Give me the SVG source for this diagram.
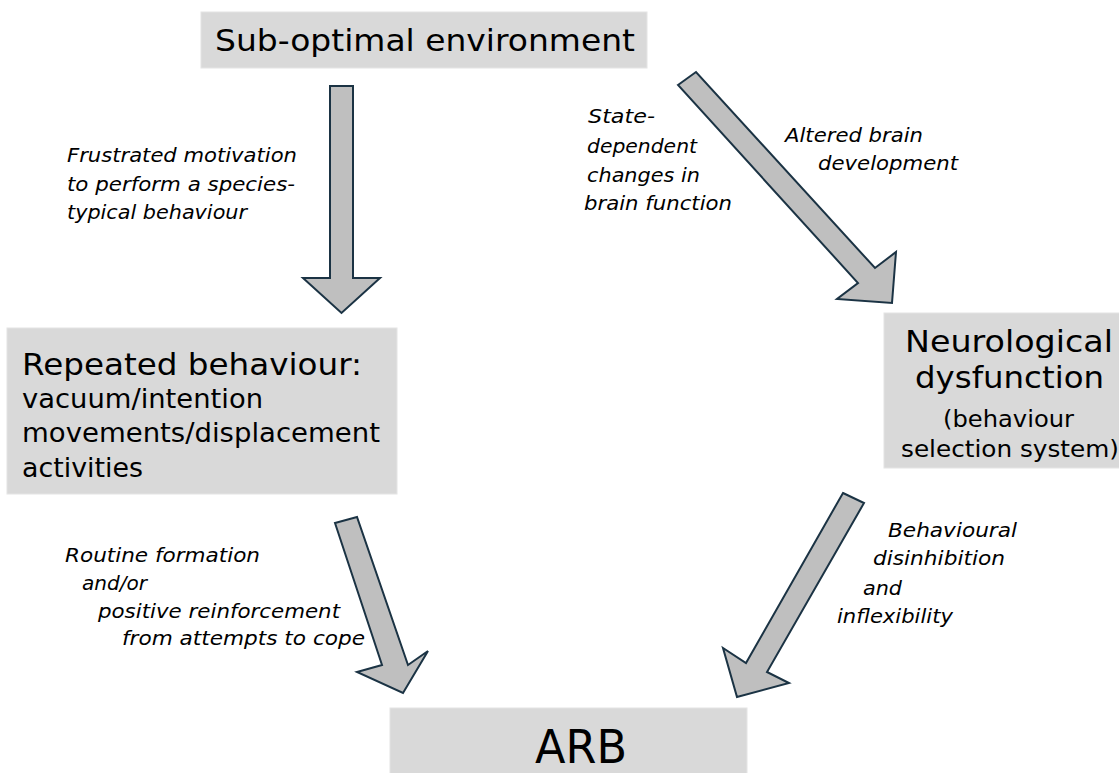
<svg xmlns="http://www.w3.org/2000/svg" width="1119" height="773" viewBox="0 0 1119 773">
<style>
.box{fill:#d9d9d9;stroke:#e4e4e4;stroke-width:1}
.bt{font-family:"DejaVu Sans","Liberation Sans",sans-serif;fill:#000}
.lb{font-family:"DejaVu Sans","Liberation Sans",sans-serif;font-style:italic;font-size:20px;fill:#000}
.arr{fill:#bfbfbf;stroke:#1b3344;stroke-width:2;stroke-linejoin:miter}
</style>
<rect width="1119" height="773" fill="#fff"/>
<g id="connectors">
<polygon class="arr" points="330,86 353,86 353,278 380,278 341.5,313 303,278 330,278"/>
<polygon class="arr" points="678,85 696,72 875,268 896,252 892,303 837,299 858,283"/>
<polygon class="arr" points="335,523 357,517 408,665 428,651 403,693 357,672 382,665"/>
<polygon class="arr" points="843,493 864,503 767,672 789,683 737,697 723,648 746,663"/>
</g>
<g id="labels">
<text class="lb" x="67" y="162" textLength="230" lengthAdjust="spacingAndGlyphs">Frustrated motivation</text>
<text class="lb" x="67" y="191" textLength="228" lengthAdjust="spacingAndGlyphs">to perform a species-</text>
<text class="lb" x="67" y="219" textLength="180" lengthAdjust="spacingAndGlyphs">typical behaviour</text>
<text class="lb" x="588" y="123" textLength="67" lengthAdjust="spacingAndGlyphs">State-</text>
<text class="lb" x="587" y="153" textLength="110" lengthAdjust="spacingAndGlyphs">dependent</text>
<text class="lb" x="587" y="182" textLength="113" lengthAdjust="spacingAndGlyphs">changes in</text>
<text class="lb" x="584" y="210" textLength="148" lengthAdjust="spacingAndGlyphs">brain function</text>
<text class="lb" x="785" y="142" textLength="138" lengthAdjust="spacingAndGlyphs">Altered brain</text>
<text class="lb" x="818" y="170" textLength="140" lengthAdjust="spacingAndGlyphs">development</text>
<text class="lb" x="65" y="562" textLength="195" lengthAdjust="spacingAndGlyphs">Routine formation</text>
<text class="lb" x="82" y="590" textLength="65" lengthAdjust="spacingAndGlyphs">and/or</text>
<text class="lb" x="98" y="618" textLength="242" lengthAdjust="spacingAndGlyphs">positive reinforcement</text>
<text class="lb" x="122" y="645" textLength="243" lengthAdjust="spacingAndGlyphs">from attempts to cope</text>
<text class="lb" x="888" y="537" textLength="129" lengthAdjust="spacingAndGlyphs">Behavioural</text>
<text class="lb" x="873" y="565" textLength="132" lengthAdjust="spacingAndGlyphs">disinhibition</text>
<text class="lb" x="863" y="595" textLength="39" lengthAdjust="spacingAndGlyphs">and</text>
<text class="lb" x="837" y="623" textLength="116" lengthAdjust="spacingAndGlyphs">inflexibility</text>
</g>
<g id="node-sub-optimal">
<rect class="box" x="201" y="12" width="446" height="56"/>
<text class="bt" x="215" y="51" font-size="31" textLength="420" lengthAdjust="spacingAndGlyphs">Sub-optimal environment</text>
</g>
<g id="node-repeated">
<rect class="box" x="7" y="328" width="390" height="166"/>
<text class="bt" x="22" y="375" font-size="31" textLength="340" lengthAdjust="spacingAndGlyphs">Repeated behaviour:</text>
<text class="bt" x="22" y="408" font-size="26" textLength="241" lengthAdjust="spacingAndGlyphs">vacuum/intention</text>
<text class="bt" x="22" y="442" font-size="26" textLength="358" lengthAdjust="spacingAndGlyphs">movements/displacement</text>
<text class="bt" x="22" y="477" font-size="26" textLength="121" lengthAdjust="spacingAndGlyphs">activities</text>
</g>
<g id="node-neuro">
<rect class="box" x="884" y="313" width="240" height="155"/>
<text class="bt" x="905" y="352" font-size="31" textLength="208" lengthAdjust="spacingAndGlyphs">Neurological</text>
<text class="bt" x="915" y="388" font-size="31" textLength="189" lengthAdjust="spacingAndGlyphs">dysfunction</text>
<text class="bt" x="943" y="427" font-size="23" textLength="131" lengthAdjust="spacingAndGlyphs">(behaviour</text>
<text class="bt" x="901" y="457" font-size="23" textLength="218" lengthAdjust="spacingAndGlyphs">selection system)</text>
</g>
<g id="node-arb">
<rect class="box" x="390" y="708" width="357" height="70"/>
<text class="bt" x="535" y="763" font-size="47" textLength="92" lengthAdjust="spacingAndGlyphs">ARB</text>
</g>
</svg>
